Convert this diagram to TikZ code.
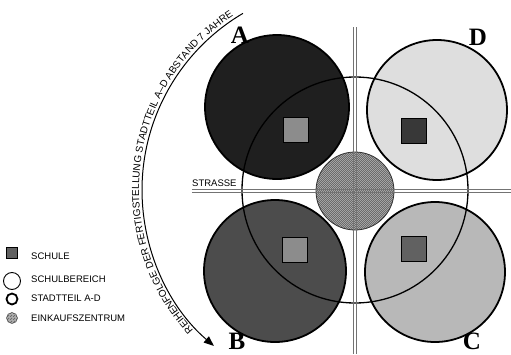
\documentclass[tikz,border=0pt]{standalone}
\usepackage{fontspec}
\setmainfont{Liberation Serif}
\setsansfont{Liberation Sans}
\usepackage{tikz}
\usetikzlibrary{arrows.meta, patterns, decorations.text}

% feines Schachbrett fuer das Einkaufszentrum
\pgfdeclarepatternformonly{feinschach}{\pgfpointorigin}{\pgfqpoint{2.4pt}{2.4pt}}{\pgfqpoint{2.4pt}{2.4pt}}{
  \pgfpathrectangle{\pgfpointorigin}{\pgfqpoint{1.2pt}{1.2pt}}
  \pgfpathrectangle{\pgfqpoint{1.2pt}{1.2pt}}{\pgfqpoint{1.2pt}{1.2pt}}
  \pgfusepath{fill}}

\begin{document}
\begin{tikzpicture}[x=1pt, y=1pt,
  stadtteil/.style={line width=1.8pt, draw=black},
  schule/.style={line width=1.1pt, draw=black},
  strasse/.style={line width=0.7pt, draw=black!55},
  zentrum/.style={preaction={fill=black!32}, pattern=feinschach, pattern color=black!58},
  buchstabe/.style={font=\fontsize{25}{25}\selectfont\bfseries, inner sep=0pt},
  legtext/.style={font=\sffamily\fontsize{9.5}{10}\selectfont, anchor=west, inner sep=0pt}]
  \useasboundingbox (-355,-164) rectangle (156,190);

  % Stadtteile A-D
  \draw[stadtteil, fill=black!88] (-78,83) circle (72);
  \draw[stadtteil, fill=black!13] (82,80) circle (70);
  \draw[stadtteil, fill=black!70] (-80,-81) circle (71);
  \draw[stadtteil, fill=black!28] (80,-82) circle (70);

  % Schulen
  \draw[schule, fill=black!45] (-71.5,47.5) rectangle (-46.5,72.5);
  \draw[schule, fill=black!78] (46.5,46.5) rectangle (71.5,71.5);
  \draw[schule, fill=black!45] (-72.5,-72.5) rectangle (-47.5,-47.5);
  \draw[schule, fill=black!62] (46.5,-71.5) rectangle (71.5,-46.5);

  % Einkaufszentrum und Schulbereich
  \draw[zentrum, draw=black!80, line width=0.8pt] (0,-1) circle (39);
  \draw[line width=1.3pt] (0,0) circle (113);

  % Strassen
  \foreach \d in {-1.5,1.5} {
    \draw[strasse] (-163,\d-0.5) -- (156,\d-0.5);
    \draw[strasse] (\d,163) -- (\d,-164);
  }
  \node[legtext, anchor=south west] (strasse) at (-163,3) {STRASSE};

  \node[buchstabe] (lblA) at (-115,155) {A};
  \node[buchstabe] (lblD) at (123,153) {D};
  \node[buchstabe] (lblB) at (-118,-151) {B};
  \node[buchstabe] (lblC) at (117,-151) {C};

  % Reihenfolge
  \draw[line width=1pt, -{Triangle[length=10pt, width=8pt]}]
    (-8,0) ++(120.5:205) arc[start angle=120.5, end angle=229.5, radius=205];
  \path[decorate, decoration={text along path, text align=center,
    text={|\sffamily\fontsize{10}{10}\selectfont|REIHENFOLGE DER FERTIGSTELLUNG STADTTEIL A–D ABSTAND 7 JAHRE}}]
    (-8,0) ++(225:208) arc[start angle=225, end angle=120.5, radius=208];

  % Legende
  \node[draw, fill=black!62, line width=0.5pt, minimum size=11pt, inner sep=0pt] (legschule) at (-343,-63) {};
  \node[circle, draw, line width=0.9pt, minimum size=17pt, inner sep=0pt] (legbereich) at (-343,-91) {};
  \node[circle, draw, line width=1.8pt, minimum size=11pt, inner sep=0pt] (legteil) at (-343,-109) {};
  \node[circle, zentrum, draw=black!70, line width=0.5pt, minimum size=11pt, inner sep=0pt] (legzentrum) at (-343,-128) {};
  \node[legtext] (txtschule) at (-324,-66) {SCHULE};
  \node[legtext] (txtbereich) at (-324,-89.5) {SCHULBEREICH};
  \node[legtext] (txtteil) at (-324,-108.5) {STADTTEIL A-D};
  \node[legtext] (txtzentrum) at (-324,-128) {EINKAUFSZENTRUM};
\end{tikzpicture}
\end{document}
